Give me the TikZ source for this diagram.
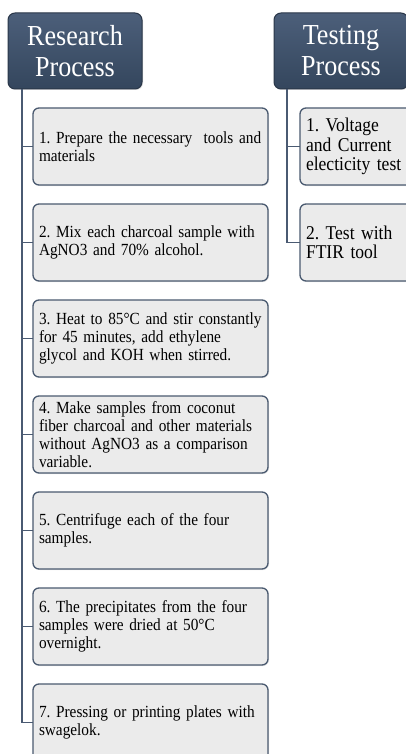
\documentclass[tikz,border=0pt]{standalone}
\usepackage{fontspec}
\setmainfont[FakeStretch=0.9]{Liberation Serif}
\usetikzlibrary{shadows}
\definecolor{hdrtop}{HTML}{4C5F7A}
\definecolor{hdrbot}{HTML}{34465D}
\definecolor{hdredge}{HTML}{2A3749}
\definecolor{boxfill}{HTML}{EBEBEB}
\definecolor{boxedge}{HTML}{4A5A70}
\definecolor{conncol}{HTML}{4A5A72}
\newcommand{\oneline}[1]{\mbox{#1}}
\tikzset{
  hdrbox/.style={rectangle, rounded corners=7pt, draw=hdredge, line width=1pt,
    top color=hdrtop, bottom color=hdrbot, minimum width=134, minimum height=76,
    inner sep=0pt, align=center, text=white, font=\fontsize{29}{31}\selectfont,
    drop shadow={opacity=0.25, shadow xshift=1pt, shadow yshift=-1pt}},
  stepbox/.style={rectangle, rounded corners=6pt, draw=boxedge, line width=1.3pt,
    fill=boxfill, minimum width=235, minimum height=77, text width=223,
    inner xsep=6pt, inner ysep=0pt, align=left,
    font=\fontsize{17}{18}\selectfont\frenchspacing,
    drop shadow={opacity=0.2, shadow xshift=1pt, shadow yshift=-1pt}},
  testbox/.style={stepbox, minimum width=112, text width=100,
    font=\fontsize{19.5}{19.5}\selectfont\frenchspacing},
  conn/.style={draw=conncol, line width=1.3pt}
}
\begin{document}
\begin{tikzpicture}[x=1pt,y=-1pt]
\clip (0,0) rectangle (406,754);
\fill[white] (0,0) rectangle (406,754);
% headers
\node[hdrbox] (R) at (75,51) {Research\\Process};
\node[hdrbox] (T) at (341,51) {Testing\\Process};
\coordinate (rs) at (22,89);
\coordinate (ts) at (287,89);
% connectors
\foreach \i/\y in {1/146.5,2/242.5,3/338.5,4/434.5,5/530.5,6/626.5,7/722.5}{
  \coordinate (bc\i) at (150.5,\y);
}
\foreach \i in {1,...,7}{\draw[conn] (rs) |- ([xshift=-117.5pt]bc\i);}
\draw[conn] (ts) |- (300,146.5);
\draw[conn] (ts) |- (300,242.5);
% research steps
\node[stepbox] (b1) at (bc1) {\oneline{1. Prepare the necessary\ \ tools and}\\\oneline{materials}};
\node[stepbox] (b2) at (bc2) {\oneline{2. Mix each charcoal sample with}\\\oneline{AgNO3 and 70\% alcohol.}};
\node[stepbox] (b3) at (bc3) {\oneline{3. Heat to 85°C and stir constantly}\\\oneline{for 45 minutes, add ethylene}\\\oneline{glycol and KOH when stirred.}};
\node[stepbox] (b4) at (bc4) {\oneline{4. Make samples from coconut}\\\oneline{fiber charcoal and other materials}\\\oneline{without AgNO3 as a comparison}\\\oneline{variable.}};
\node[stepbox] (b5) at (bc5) {\oneline{5. Centrifuge each of the four}\\\oneline{samples.}};
\node[stepbox] (b6) at (bc6) {\oneline{6. The precipitates from the four}\\\oneline{samples were dried at 50°C}\\\oneline{overnight.}};
\node[stepbox] (b7) at (bc7) {\oneline{7. Pressing or printing plates with}\\\oneline{swagelok.}};
% testing steps
\node[testbox] (t1) at (356,146.5) {\oneline{1. Voltage}\\\oneline{and Current}\\\oneline{electicity test}};
\node[testbox] (t2) at (356,242.5) {\oneline{2. Test with}\\\oneline{FTIR tool}};
\end{tikzpicture}
\end{document}
